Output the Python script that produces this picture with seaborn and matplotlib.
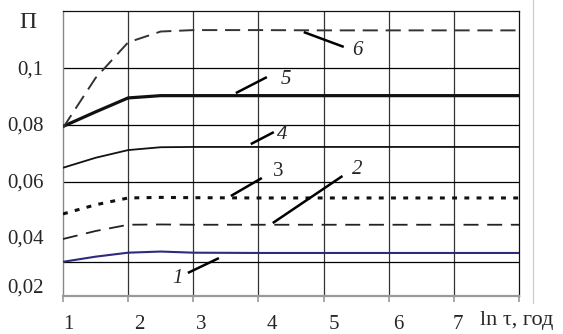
import numpy as np
import pandas as pd
import seaborn as sns
import matplotlib.pyplot as plt
import matplotlib.transforms as mtransforms
from matplotlib.lines import Line2D

# ---- data ----
x = [1, 1.5, 2, 2.5, 3, 4, 5, 6, 7, 8]
curve1 = [0.032, 0.0338, 0.0352, 0.0356, 0.0352, 0.0351, 0.0351, 0.0351, 0.0351, 0.0351]
curve2 = [0.040, 0.0428, 0.0450, 0.0451, 0.0450, 0.0450, 0.0450, 0.0450, 0.0450, 0.0450]
curve3 = [0.0488, 0.0520, 0.0544, 0.0546, 0.0545, 0.0544, 0.0544, 0.0544, 0.0544, 0.0544]
curve4 = [0.065, 0.0685, 0.0712, 0.0722, 0.0723, 0.0723, 0.0723, 0.0723, 0.0723, 0.0723]
curve5 = [0.0795, 0.0846, 0.0895, 0.0903, 0.0903, 0.0903, 0.0903, 0.0903, 0.0903, 0.0903]
curve6 = [0.0790, 0.0965, 0.1090, 0.1128, 0.1133, 0.1133, 0.1132, 0.1132, 0.1132, 0.1132]
x_ticks = [1, 2, 3, 4, 5, 6, 7]
x_tick_labels = ["1", "2", "3", "4", "5", "6", "7"]
y_ticks = [0.02, 0.04, 0.06, 0.08, 0.1]
y_tick_labels = ["0,02", "0,04", "0,06", "0,08", "0,1"]
h_grid = [0.032, 0.06, 0.08, 0.1]
curve_names = ["1", "2", "3", "4", "5", "6"]
# annotation leader lines (x0, y0, x1, y1) and label positions
leaders = [(2.917, 0.0281, 3.393, 0.0333), (4.22, 0.0456, 5.29, 0.0621),
           (3.577, 0.0551, 4.052, 0.0614), (3.883, 0.0733, 4.236, 0.0775),
           (3.653, 0.0912, 4.129, 0.0968), (4.696, 0.1126, 5.31, 0.1074)]
label_pos = [(2.76, 0.0263), (5.52, 0.0645), (4.30, 0.0638), (4.37, 0.0768),
             (4.42, 0.0961), (5.52, 0.1063)]
label_italic = [True, True, False, True, True, True]

sns.set_style("white")
plt.rcParams['font.family'] = ['Liberation Serif', 'DejaVu Serif']

fig = plt.figure(figsize=(5.63, 3.34), dpi=100)
ax = fig.add_axes([63/563, 1 - 296/334, (519 - 63)/563, (296 - 11)/334])

styles = [
    dict(y=curve1, color="#2e2a7e", lw=1.5, ls="-"),
    dict(y=curve2, color="#222222", lw=1.3, ls=(0, (8.3, 4.8))),
    dict(y=curve3, color="#111111", lw=2.2, ls=(0, (1.6, 2.4))),
    dict(y=curve4, color="#111111", lw=1.3, ls="-"),
    dict(y=curve5, color="#111111", lw=2.3, ls="-"),
    dict(y=curve6, color="#333333", lw=1.4, ls=(0, (7.8, 4.0))),
]
for i, s in enumerate(styles):
    d = pd.DataFrame({"x": x, "y": s["y"]})
    sns.lineplot(data=d, x="x", y="y", ax=ax, color=s["color"], lw=s["lw"],
                 linestyle=s["ls"], zorder=5)

ax.set_xlim(1, 8)
ax.set_ylim(0.02, 0.12)

# grid lines
for xv in x_ticks[1:]:
    ax.axvline(xv, color="#333333", lw=0.9, zorder=1)
for yv in h_grid:
    ax.axhline(yv, color="#000000", lw=0.9, zorder=1)

for side in ["top", "right"]:
    ax.spines[side].set_color("#111111")
    ax.spines[side].set_linewidth(0.9)
ax.spines["left"].set_color("#888888")
ax.spines["left"].set_linewidth(1.0)
ax.spines["bottom"].set_color("#999999")
ax.spines["bottom"].set_linewidth(1.6)

ax.set_xticks(x_ticks + [8])
ax.set_xticklabels(x_tick_labels + [""])
ax.set_yticks(y_ticks)
ax.set_yticklabels(y_tick_labels)
ax.tick_params(axis="x", direction="out", length=4, width=1.2, color="#999999",
               pad=9.5, labelsize=15, bottom=True)
ax.tick_params(axis="y", length=0, pad=14, labelsize=15, left=False)
ax.set_xlabel("")
ax.set_ylabel("")

offsets = [5, 11, 8, 13, 10, 10, 4]
for lab, off in zip(ax.get_xticklabels(), offsets):
    lab.set_transform(lab.get_transform() + mtransforms.ScaledTranslation(off/100, 0, fig.dpi_scale_trans))
yoffs = [10, 2, 1, 1, 0]
for lab, off in zip(ax.get_yticklabels(), yoffs):
    lab.set_transform(lab.get_transform() + mtransforms.ScaledTranslation(0, off/100, fig.dpi_scale_trans))

# annotations
for (x0, y0, x1, y1), (lx, ly), name, it in zip(leaders, label_pos, curve_names, label_italic):
    ax.plot([x0, x1], [y0, y1], color="black", lw=1.8, zorder=6, solid_capstyle="butt")
    ax.text(lx, ly, name, fontsize=15, style="italic" if it else "normal",
            ha="center", va="center", zorder=7)

fig.text(28/563, 1 - 23/334, "П", fontsize=17, ha="center", va="center")
fig.text(480/563, 1 - 321/334, "ln τ, год", fontsize=16, ha="left", va="center")

fig.add_artist(Line2D([533/563, 533/563], [1 - 303/334, 1.0], transform=fig.transFigure,
                      color="#cccccc", lw=0.9))

fig.savefig("out.png", dpi=100)
